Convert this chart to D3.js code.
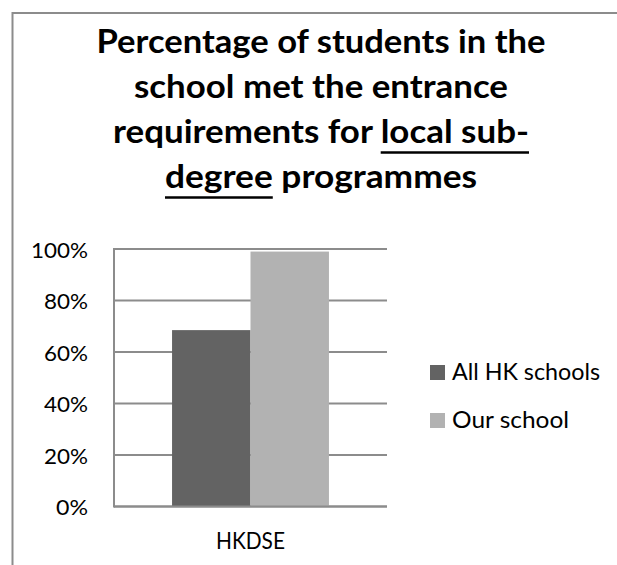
<!DOCTYPE html>
<html>
<head>
<meta charset="utf-8">
<script src="https://cdn.jsdelivr.net/npm/d3@7"></script>
<style>
  html, body { margin: 0; padding: 0; background: #fff; }
  svg { display: block; }
  text { font-family: Lato, "Open Sans", sans-serif; fill: #000; }
</style>
</head>
<body>
<svg id="chart" width="617" height="565"></svg>
<script>
// ---- data ----
const categories = ["HKDSE"];
const seriesNames = ["All HK schools", "Our school"];
const seriesValues = [0.685, 0.99];          // share of students, per series
const seriesColors = ["#636363", "#b2b2b2"];
const yTicks = [0, 0.2, 0.4, 0.6, 0.8, 1.0];
const titleLines = [
  [{ t: "Percentage of students in the" }],
  [{ t: "school met the entrance" }],
  [{ t: "requirements for " }, { t: "local sub-", u: true }],
  [{ t: "degree", u: true }, { t: " programmes" }]
];

const svg = d3.select("#chart");
const gridColor = "#8c8c8c";

// set a font size and squeeze the run to a given width
function setText(sel, size, width) {
  sel.style("font-size", size + "px");
  if (width) sel.attr("textLength", width).attr("lengthAdjust", "spacingAndGlyphs");
}

// chart frame
svg.append("path")
  .attr("d", "M12.5,565 V13 H617")
  .attr("fill", "none")
  .attr("stroke", gridColor)
  .attr("stroke-width", 2);

// ---- title ----
const titleX = 321;
const titleBaselines = [53, 98, 143, 188];
const titleWidths = [449, 374, 416, 312];
titleLines.forEach((parts, i) => {
  const t = svg.append("text")
    .attr("x", titleX)
    .attr("y", titleBaselines[i])
    .attr("text-anchor", "middle")
    .style("font-weight", "bold");
  parts.forEach(p => t.append("tspan").text(p.t));
  setText(t, 32, titleWidths[i]);
  // underline the marked runs
  let idx = 0;
  parts.forEach(p => {
    if (p.u) {
      const node = t.node();
      const x0 = node.getStartPositionOfChar(idx).x;
      const x1 = node.getEndPositionOfChar(idx + p.t.length - 1).x;
      svg.append("line")
        .attr("x1", x0).attr("x2", x1)
        .attr("y1", titleBaselines[i] + 9.5).attr("y2", titleBaselines[i] + 9.5)
        .attr("stroke", "#000").attr("stroke-width", 2.5);
    }
    idx += p.t.length;
  });
});

// ---- plot ----
const plot = { left: 114, right: 387, top: 249, bottom: 506.5 };

const x = d3.scaleBand().domain(categories).range([plot.left, plot.right]);
const xs = d3.scaleBand().domain(seriesNames).range([0, x.bandwidth()])
  .paddingInner(0).paddingOuter(0.74);
const y = d3.scaleLinear().domain([0, 1]).range([plot.bottom, plot.top]);

// gridlines
svg.append("g")
  .selectAll("line")
  .data(yTicks)
  .join("line")
  .attr("x1", plot.left).attr("x2", plot.right)
  .attr("y1", d => y(d)).attr("y2", d => y(d))
  .attr("stroke", gridColor).attr("stroke-width", 2);

// bars
const groups = svg.append("g")
  .selectAll("g")
  .data(categories)
  .join("g")
  .attr("transform", d => `translate(${x(d)},0)`);

groups.selectAll("rect")
  .data(() => seriesNames.map((s, si) => ({ s, v: seriesValues[si], color: seriesColors[si] })))
  .join("rect")
  .attr("x", d => xs(d.s))
  .attr("width", xs.bandwidth())
  .attr("y", d => y(d.v))
  .attr("height", d => y(0) - y(d.v))
  .attr("fill", d => d.color);

// value axis line
svg.append("line")
  .attr("x1", plot.left).attr("x2", plot.left)
  .attr("y1", plot.top - 1).attr("y2", plot.bottom + 1)
  .attr("stroke", gridColor).attr("stroke-width", 2);

// baseline redrawn over the bars
svg.append("line")
  .attr("x1", plot.left).attr("x2", plot.right)
  .attr("y1", y(0)).attr("y2", y(0))
  .attr("stroke", gridColor).attr("stroke-width", 2);

// y tick labels
const fmt = d3.format(".0%");
svg.append("g")
  .selectAll("text")
  .data(yTicks)
  .join("text")
  .attr("x", 88)
  .attr("y", d => y(d) + 8.5)
  .attr("text-anchor", "end")
  .text(d => fmt(d))
  .each(function (d) {
    const w = d === 1 ? 57 : d === 0 ? 32 : 44;
    setText(d3.select(this), 21.5, w);
  });

// category labels
svg.append("g")
  .selectAll("text")
  .data(categories)
  .join("text")
  .attr("x", d => x(d) + x.bandwidth() / 2)
  .attr("y", 549)
  .attr("text-anchor", "middle")
  .text(d => d)
  .each(function () { setText(d3.select(this), 22.3, 69); });

// ---- legend ----
const legendWidths = [148, 117];
const legend = svg.append("g")
  .selectAll("g")
  .data(seriesNames)
  .join("g")
  .attr("transform", (d, i) => `translate(430,${365 + i * 48})`);

legend.append("rect")
  .attr("width", 15).attr("height", 15)
  .attr("fill", (d, i) => seriesColors[i]);

legend.append("text")
  .attr("x", 22)
  .attr("y", 15)
  .text(d => d)
  .each(function (d, i) { setText(d3.select(this), 23, legendWidths[i]); });
</script>
</body>
</html>
